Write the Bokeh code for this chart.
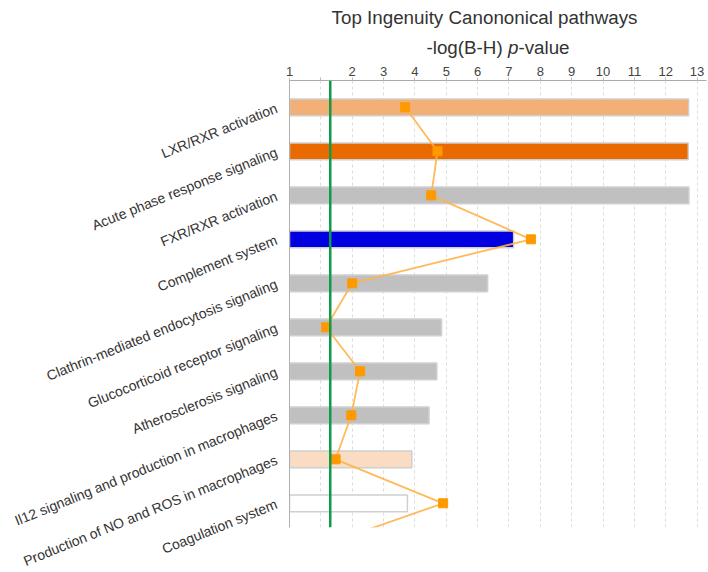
from bokeh.plotting import figure
from bokeh.layouts import column
from bokeh.models import Range1d, LinearAxis, FixedTicker, Span, ColumnDataSource
from bokeh.core.properties import value
from bokeh.embed import file_html
from bokeh.resources import INLINE

# ---------------- data ----------------
pathways = [
    "LXR/RXR activation",
    "Acute phase response signaling",
    "FXR/RXR activation",
    "Complement system",
    "Clathrin-mediated endocytosis signaling",
    "Glucocorticoid receptor signaling",
    "Atherosclerosis signaling",
    "Il12 signaling and production in macrophages",
    "Production of NO and ROS in macrophages",
    "Coagulation system",
]
neg_log_p = [12.73, 12.72, 12.74, 7.15, 6.32, 4.85, 4.70, 4.45, 3.90, 3.76]
bar_colors = ["#F2AF78", "#E96A00", "#C0C0C0", "#0000E0", "#C0C0C0",
              "#C0C0C0", "#C0C0C0", "#C0C0C0", "#F9DCC2", "#FFFFFF"]
# ratio series (continues to an 11th pathway below the visible area)
ratio = [3.69, 4.72, 4.52, 7.70, 2.00, 1.17, 2.25, 1.97, 1.47, 4.90, 0.88]
threshold = 1.3
x_ticks = list(range(0, 14))
x_tick_labels = {0: "1", 1: ""}
title_text = "Top Ingenuity Canononical pathways"
subtitle_parts = ["-log(B-H) ", "p", "-value"]

FONT = "Liberation Sans"
TITLE_SIZE = 18.8

# ---------------- layout constants ----------------
W = 708
LEFT, RIGHT = 289, 2
XMAX = 13.3
TOP_H = 60
px_per_unit = (W - LEFT - RIGHT) / XMAX

xr = Range1d(0, XMAX)

# ---------------- title figure ----------------
t = figure(width=W, height=TOP_H, output_backend="svg", toolbar_location=None,
           x_range=xr, y_range=Range1d(0, TOP_H),
           x_axis_location=None, y_axis_location=None,
           min_border_left=LEFT, min_border_right=RIGHT,
           min_border_top=0, min_border_bottom=0)
t.outline_line_color = None
t.grid.visible = False

def px(x_pixels):
    return x_pixels / px_per_unit

t.text(x=[px(195)], y=[43], text=[title_text], text_align="center",
       text_baseline="middle", text_font=value(FONT),
       text_font_size=f"{TITLE_SIZE}px", text_color="#333333")
# subtitle in three pieces (italic p)
sub_x0 = 137
w1 = 4.333 * TITLE_SIZE
w2 = 0.556 * TITLE_SIZE
t.text(x=[px(sub_x0)], y=[13], text=[subtitle_parts[0]], text_align="left",
       text_baseline="middle", text_font=value(FONT),
       text_font_size=f"{TITLE_SIZE}px", text_color="#333333")
t.text(x=[px(sub_x0 + w1)], y=[13], text=[subtitle_parts[1]], text_align="left",
       text_baseline="middle", text_font=value(FONT), text_font_style="italic",
       text_font_size=f"{TITLE_SIZE}px", text_color="#333333")
t.text(x=[px(sub_x0 + w1 + w2)], y=[13], text=[subtitle_parts[2]], text_align="left",
       text_baseline="middle", text_font=value(FONT),
       text_font_size=f"{TITLE_SIZE}px", text_color="#333333")

# ---------------- main chart ----------------
pos = list(range(len(pathways)))
ratio_pos = list(range(len(ratio)))

p = figure(width=W, height=572 - TOP_H, output_backend="svg", toolbar_location=None,
           x_range=xr, y_range=Range1d(9.55, -0.61),
           x_axis_location=None, y_axis_location="left",
           min_border_left=LEFT, min_border_top=20, min_border_right=RIGHT,
           min_border_bottom=45)
p.outline_line_color = None

# grid
p.xgrid.ticker = FixedTicker(ticks=x_ticks)
p.xgrid.grid_line_color = "#dcdcdc"
p.xgrid.grid_line_dash = "3 3"
p.ygrid.grid_line_color = None

# top axis
top = LinearAxis(ticker=FixedTicker(ticks=x_ticks))
top.major_label_overrides = x_tick_labels
top.axis_line_color = "#aaaaaa"
top.major_tick_line_color = "#bbbbbb"
top.major_tick_out = 3
top.major_tick_in = 0
top.minor_tick_line_color = None
top.major_label_text_font = FONT
top.major_label_text_font_size = "13px"
top.major_label_text_color = "#444444"
top.major_label_standoff = 2
p.add_layout(top, "above")

# left axis with category labels
ya = p.yaxis[0]
ya.ticker = FixedTicker(ticks=pos)
ya.major_label_overrides = {i: n for i, n in zip(pos, pathways)}
ya.major_label_orientation = 0.385
ya.axis_line_color = "#b0b0b0"
ya.major_tick_line_color = None
ya.minor_tick_line_color = None
ya.major_label_text_font = FONT
ya.major_label_text_font_size = "14px"
ya.major_label_text_color = "#333333"
ya.major_label_standoff = 7

# bars
src = ColumnDataSource(dict(y=pos, v=neg_log_p, c=bar_colors))
p.hbar(y="y", left=0, right="v", height=0.38, fill_color="c",
       line_color="#d0d0d0", line_width=1.5, source=src)

# threshold
p.add_layout(Span(location=threshold, dimension="height", line_color="#119A48",
                  line_width=2.5))

# ratio line
p.line(ratio, ratio_pos, line_color="#FFB347", line_width=1.8, line_alpha=0.9)
p.scatter(ratio, ratio_pos, marker="square", size=9, fill_color="#FF9900",
          line_color="#FF9900")

layout = column(t, p, spacing=0)
open("out.html", "w").write(file_html(layout, INLINE))
